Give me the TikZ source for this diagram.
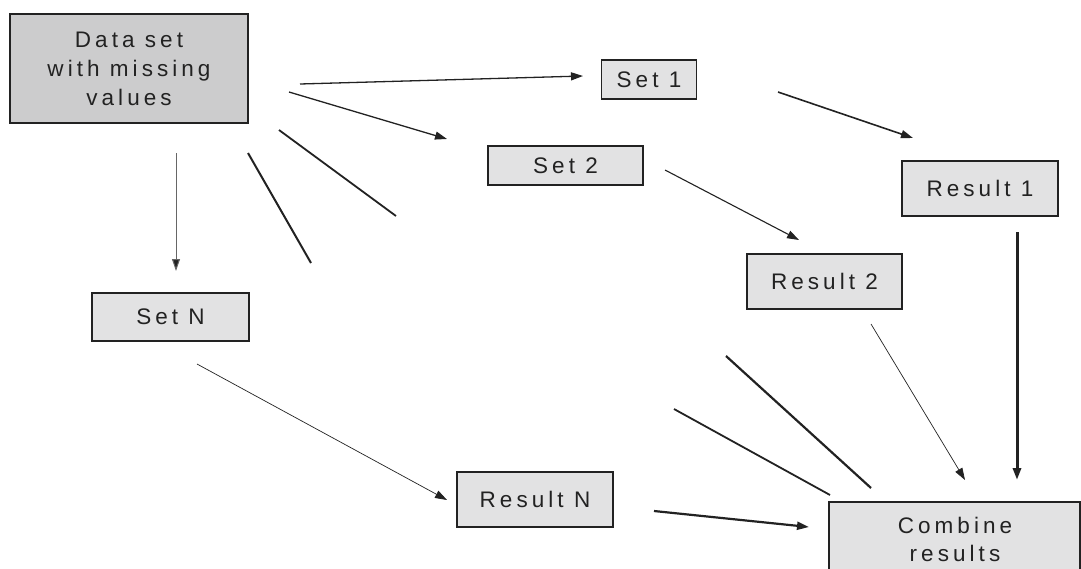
\documentclass[tikz,border=0pt]{standalone}
\usepackage{fontspec}
\setmainfont{Liberation Sans}[LetterSpace=18]
\usetikzlibrary{arrows.meta}
\definecolor{boxfill}{HTML}{E2E2E3}
\definecolor{darkfill}{HTML}{CCCCCD}
\definecolor{inkc}{HTML}{222222}
\tikzset{
  box/.style={draw=inkc, line width=1.6pt, fill=boxfill, inner sep=0pt, text=inkc,
     font=\fontsize{22.5}{29}\selectfont, align=center},
  tip/.style={-{Triangle[length=12pt,width=8pt]}},
  thinln/.style={line width=0.8pt, draw=inkc},
  medln/.style={line width=1.6pt, draw=inkc},
  thickln/.style={line width=2.4pt, draw=inkc},
}
\begin{document}
\begin{tikzpicture}[x=1pt,y=-1pt]
\useasboundingbox (0,0) rectangle (1081,568);
\clip (0,0) rectangle (1081,568);
% nodes
\node[box, fill=darkfill, minimum width=238pt, minimum height=109pt] (data) at (129,68.5) {Data set\\with missing\\values};
\node[box, minimum width=95pt, minimum height=39pt] (set1) at (649,79.5) {Set 1};
\node[box, minimum width=155pt, minimum height=39pt] (set2) at (565.5,165.5) {Set 2};
\node[box, minimum width=156pt, minimum height=55pt] (res1) at (980,188.5) {Result 1};
\node[box, minimum width=155pt, minimum height=55pt] (res2) at (824.5,281.5) {Result 2};
\node[box, minimum width=157pt, minimum height=48pt] (setN) at (170.5,317) {Set N};
\node[box, minimum width=156pt, minimum height=55pt] (resN) at (535,499.5) {Result N};
\node[box, minimum width=251pt, minimum height=116pt] (comb) at (954.5,560) {};
\node[text=inkc, font=\fontsize{22.5}{28}\selectfont, align=center, anchor=base] (combt) at (955,561) {Combine\\results};
% coordinates
\coordinate (a1s) at (300,84);   \coordinate (a1e) at (583,76);
\coordinate (a2s) at (289,92);   \coordinate (a2e) at (447,139);
\coordinate (a3s) at (778,92);   \coordinate (a3e) at (913,138);
\coordinate (a4s) at (665,170);  \coordinate (a4e) at (799,240);
\coordinate (a5s) at (176,153);  \coordinate (a5e) at (176,271);
\coordinate (l1s) at (248,153);  \coordinate (l1e) at (311,263);
\coordinate (l2s) at (279,130);  \coordinate (l2e) at (396,216);
\coordinate (a6s) at (197,364);  \coordinate (a6e) at (447,500);
\coordinate (a7s) at (654,511);  \coordinate (a7e) at (809,527);
\coordinate (a8s) at (871,324);  \coordinate (a8e) at (965,480);
\coordinate (a9s) at (1017,232); \coordinate (a9e) at (1017,480);
\coordinate (l3s) at (726,356);  \coordinate (l3e) at (871,488);
\coordinate (l4s) at (674,409);  \coordinate (l4e) at (830,495);
% connectors
\draw[medln, line width=1.3pt, tip] (a1s) -- (a1e);
\draw[medln, line width=1.3pt, tip] (a2s) -- (a2e);
\draw[medln, line width=1.6pt, tip] (a3s) -- (a3e);
\draw[thinln, line width=1.1pt, tip] (a4s) -- (a4e);
\draw[thinln, draw=black!60, line width=1pt, -{Triangle[length=12pt,width=8pt,fill=inkc]}] (a5s) -- (a5e);
\draw[medln, line width=2pt] (l1s) -- (l1e);
\draw[medln, line width=1.8pt] (l2s) -- (l2e);
\draw[thinln, line width=0.7pt, tip] (a6s) -- (a6e);
\draw[thickln, line width=2.2pt, tip] (a7s) -- (a7e);
\draw[thinln, line width=0.7pt, tip] (a8s) -- (a8e);
\draw[thickln, line width=3pt, tip] (a9s) -- (a9e);
\draw[medln, line width=2.2pt] (l3s) -- (l3e);
\draw[medln, line width=1.8pt] (l4s) -- (l4e);
\end{tikzpicture}
\end{document}
